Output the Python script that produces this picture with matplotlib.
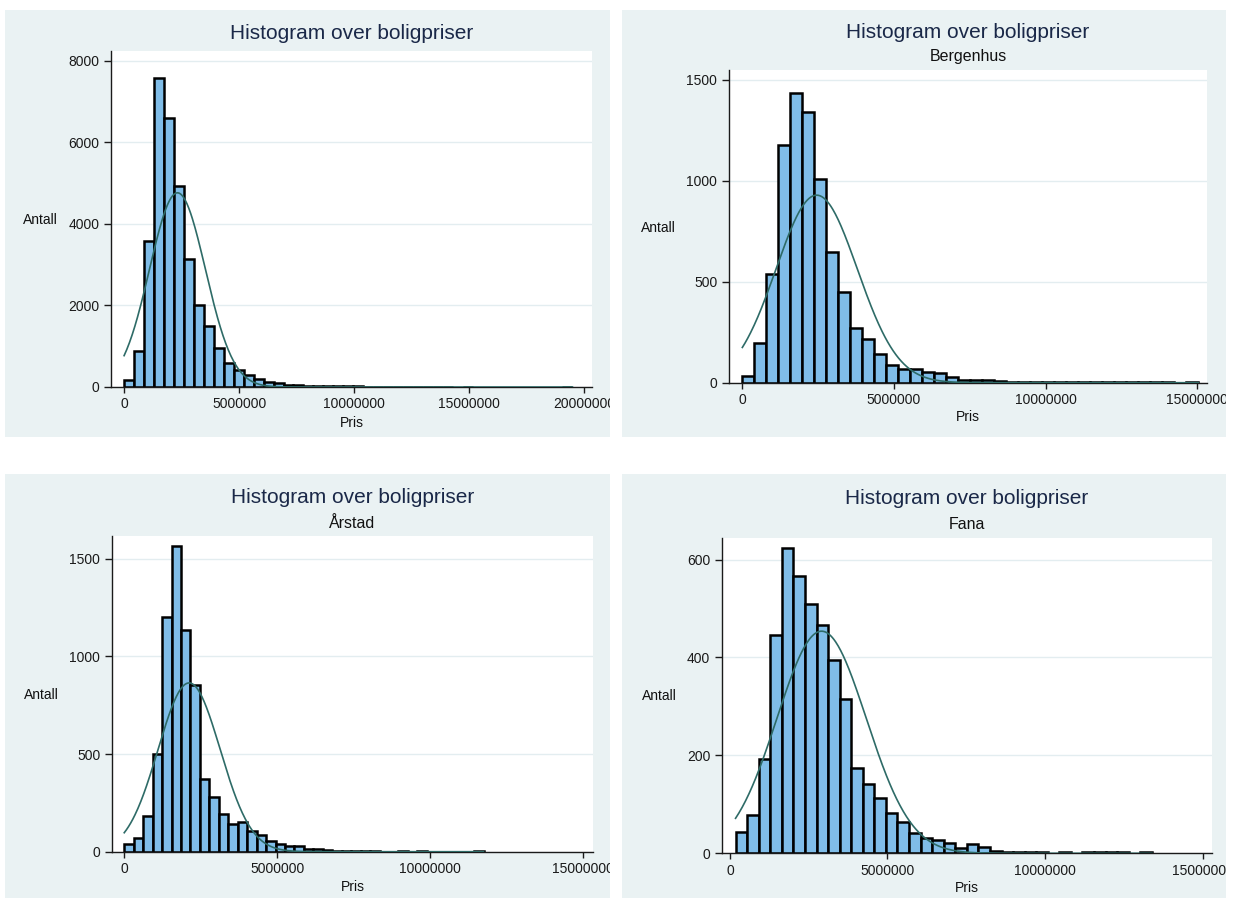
import numpy as np
import matplotlib
matplotlib.use('Agg')
import matplotlib.pyplot as plt
from matplotlib.patches import Rectangle
from matplotlib.transforms import Bbox, TransformedBbox

plt.rcParams['font.family'] = ['Liberation Sans', 'DejaVu Sans']

W, H = 1234, 900

# --- data ---
title = 'Histogram over boligpriser'
subtitles = ['', 'Bergenhus', 'Årstad', 'Fana']

# alle bydeler
alle_start = 0
alle_width = 433333
alle_counts = [170, 880, 3580, 7580, 6600, 4940, 3146, 2018, 1504, 964, 597, 425, 302, 204, 131, 106,
               60, 52, 30, 25, 22, 18, 15, 13, 12, 10, 9, 8, 7, 6, 6, 5, 5, 0, 6,
               0, 0, 0, 0, 0, 0, 0, 0, 0, 6]
alle_mean = 2320000
alle_sd = 1215000

# Bergenhus
bergenhus_start = 0
bergenhus_width = 395600
bergenhus_counts = [33, 198, 540, 1176, 1432, 1341, 1008, 645, 450, 269, 214, 142, 87, 69, 66, 51, 46, 30,
                    13, 13, 12, 6, 5, 5, 4, 4, 3, 3, 3, 2, 2, 2, 2, 2, 2, 1, 0, 2]
bergenhus_mean = 2450000
bergenhus_sd = 1340000

# Årstad
arstad_start = 0
arstad_width = 309000
arstad_counts = [37, 72, 184, 501, 1201, 1564, 1137, 855, 373, 278, 193, 141, 153, 107, 87, 55, 41, 28, 28,
                 12, 12, 10, 3, 6, 6, 6, 5, 0, 0, 4, 0, 4, 0, 0, 0, 0, 0, 4]
arstad_mean = 2120000
arstad_sd = 1014000

# Fana
fana_start = 180000
fana_width = 367000
fana_counts = [44, 79, 193, 445, 624, 567, 510, 466, 395, 315, 175, 142, 112, 83, 64, 41, 31, 27, 22, 10,
               18, 12, 5, 2, 2, 2, 2, 0, 2, 0, 2, 2, 2, 2, 0, 2]
fana_mean = 2910000
fana_sd = 1420000

x_ticks_big = [0, 5000000, 10000000, 15000000, 20000000]
x_ticks_small = [0, 5000000, 10000000, 15000000]
y_ticks = [[0, 2000, 4000, 6000, 8000], [0, 500, 1000, 1500], [0, 500, 1000, 1500], [0, 200, 400, 600]]

# --- layout in pixels ---
panels_px = [(5, 10, 610, 437), (622, 10, 1226, 437), (5, 474, 610, 898), (622, 474, 1226, 898)]
axes_px = [(111, 51, 592, 387), (729, 70, 1207, 382.7), (112, 536, 593, 851.7), (722, 538, 1212, 853.3)]
xlims = [(-570000, 20350000), (-440000, 15320000), (-400000, 15320000), (-250000, 15300000)]
ylims = [8238, 1548, 1616, 644]
title_y = [39, 38, 503, 504]
sub_y = [None, 61, 528, 529]
antall_xy = [(40.7, 224), (658.5, 232), (41, 699), (659, 700.5)]
pris_y = [427, 421.5, 891, 892.5]

series = [
    (alle_start, alle_width, alle_counts, alle_mean, alle_sd),
    (bergenhus_start, bergenhus_width, bergenhus_counts, bergenhus_mean, bergenhus_sd),
    (arstad_start, arstad_width, arstad_counts, arstad_mean, arstad_sd),
    (fana_start, fana_width, fana_counts, fana_mean, fana_sd),
]

bg = '#EAF2F3'
bar_color = '#80BDE8'
curve_color = '#2E6B67'
title_color = '#1A2848'

fig = plt.figure(figsize=(W / 100, H / 100), dpi=100)
fig.patch.set_facecolor('white')

for k in range(4):
    px0, py0, px1, py1 = panels_px[k]
    fig.add_artist(Rectangle((px0 / W, 1 - py1 / H), (px1 - px0) / W, (py1 - py0) / H,
                             transform=fig.transFigure, facecolor=bg, edgecolor='none', zorder=-10))
    clip = TransformedBbox(Bbox.from_extents(px0 / W, 1 - py1 / H, px1 / W, 1 - py0 / H), fig.transFigure)

    l, t, r, b = axes_px[k]
    ax = fig.add_axes([l / W, 1 - b / H, (r - l) / W, (b - t) / H])
    ax.set_facecolor('white')

    start, width, counts, mean, sd = series[k]
    counts = np.array(counts)
    lefts = start + width * np.arange(len(counts))
    keep = counts > 0
    ax.bar(lefts[keep], counts[keep], width=width, align='edge', color=bar_color,
           edgecolor='black', linewidth=1.8, zorder=2)

    # normal curve scaled to the counts
    n = counts.sum()
    xs = np.linspace(start, start + width * len(counts), 500)
    ys = n * width * np.exp(-0.5 * ((xs - mean) / sd) ** 2) / (sd * np.sqrt(2 * np.pi))
    ax.plot(xs, ys, color=curve_color, lw=1.2, zorder=3)

    ax.set_xlim(*xlims[k])
    ax.set_ylim(0, ylims[k])
    xt = x_ticks_big if k == 0 else x_ticks_small
    ax.set_xticks(xt, labels=[str(v) for v in xt])
    ax.set_yticks(y_ticks[k], labels=[str(v) for v in y_ticks[k]])
    ax.yaxis.grid(True, color='#E3EDF0', lw=1.0, zorder=0)
    ax.set_axisbelow(True)

    for s in ['top', 'right']:
        ax.spines[s].set_visible(False)
    for s in ['left', 'bottom']:
        ax.spines[s].set_color('#1a1a1a')
        ax.spines[s].set_linewidth(1.0)
    ax.tick_params(axis='y', direction='out', length=5, width=1, pad=3.5, labelsize=10, colors='#1a1a1a')
    ax.tick_params(axis='x', direction='out', length=4.5, width=1, pad=3, labelsize=10, colors='#1a1a1a')

    for lab in ax.get_xticklabels() + ax.get_yticklabels():
        lab.set_clip_box(clip)
        lab.set_clip_on(True)

    cx = (l + r) / 2
    fig.text(cx / W, 1 - title_y[k] / H, title, ha='center', va='baseline',
             fontsize=15, color=title_color)
    if subtitles[k]:
        fig.text(cx / W, 1 - sub_y[k] / H, subtitles[k], ha='center', va='baseline',
                 fontsize=11.5, color='#111111')

    ax.set_xlabel('Pris', fontsize=10, va='baseline', color='#111111')
    ax.xaxis.set_label_coords(0.5, (b - pris_y[k]) / (b - t))
    ax.set_ylabel('Antall', fontsize=10, rotation=0, ha='center', va='baseline', color='#111111')
    ax.yaxis.set_label_coords((antall_xy[k][0] - l) / (r - l), (b - antall_xy[k][1]) / (b - t))

fig.savefig('out.png', dpi=100, facecolor='white')
